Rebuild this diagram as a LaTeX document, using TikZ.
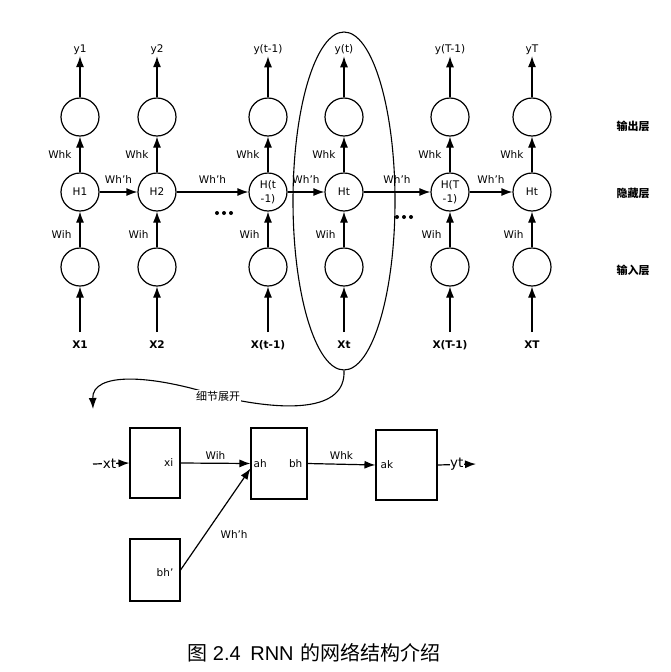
\documentclass[tikz,border=0pt]{standalone}
\usepackage{fontspec}
\setmainfont{DejaVu Sans}
\newfontfamily\cjk{Noto Sans CJK SC}
\newfontfamily\arial{Liberation Sans}
\usepackage{tikz}
\usetikzlibrary{positioning,arrows.meta,shapes.geometric}

\begin{document}
\begin{tikzpicture}[x=1pt,y=-1pt,
  neuron/.style={circle,draw,line width=1.2pt,minimum size=38,inner sep=0pt,align=center,
    font=\fontsize{10.5}{14}\selectfont},
  cell/.style={rectangle,draw,line width=1.1pt,inner sep=0pt},
  arr/.style={line width=1.2pt,-{Latex[length=11pt,width=8pt]}},
  lab/.style={font=\fontsize{10.5}{11}\selectfont,inner sep=1pt},
  layer/.style={font=\cjk\bfseries\fontsize{11}{12}\selectfont}]
\useasboundingbox (0,0) rectangle (671,672);
% the unrolled network
\foreach \n/\x/\ya/\hb/\xb in {1/80/y1/H1/X1, 2/157/y2/H2/X2, 3/268/y(t-1)/{H(t\\-1)}/X(t-1),
    4/344/y(t)/Ht/Xt, 5/450/y(T-1)/{H(T\\-1)}/X(T-1), 6/532/yT/Ht/XT}{
  \node[neuron] (o\n) at (\x,117) {};
  \node[neuron] (h\n) at (\x,192) {\hb};
  \node[neuron] (i\n) at (\x,267) {};
  \node[lab] (y\n) at (\x,50) {\ya};
  \node[lab,font=\bfseries\fontsize{10.5}{11}\selectfont] (x\n) at (\x,345) {\xb};
  \draw[arr] ([yshift=13pt]x\n.center) -- (i\n);
  \draw[arr] (i\n) -- node[lab,left=7pt,pos=.35] {Wih} (h\n);
  \draw[arr] (h\n) -- node[lab,left=7pt] {Whk} (o\n);
  \draw[arr] (o\n) -- (y\n);
}
\foreach \a/\b in {1/2,2/3,3/4,4/5,5/6}
  \draw[arr] (h\a) -- node[lab,above=7pt] {Wh'h} (h\b);
\foreach \x in {217,224,231} \fill (\x,213) circle (2);
\foreach \x in {397,404,411} \fill (\x,217) circle (2);
\node[layer] at (633,126) {输出层};
\node[layer] at (633,193) {隐藏层};
\node[layer] at (633,270) {输入层};
% the detail of one step
\node[ellipse,draw,line width=1.1pt,minimum width=102,minimum height=338,inner sep=0pt] (step) at (344,201) {};
\draw[line width=1.1pt,-{Latex[length=11pt,width=8pt]}] (step.south)
  .. controls (346,412) and (285,412) .. (218,396) node[fill=white,inner sep=1pt,font=\cjk\fontsize{11}{12}\selectfont] {细节展开}
  .. controls (150,374) and (92,372) .. (93,409);
\node[cell,minimum width=50,minimum height=70] (bx) at (155,463) {};
\node[cell,minimum width=56,minimum height=71] (bh) at (279,463.5) {};
\node[cell,minimum width=61,minimum height=70] (bk) at (406.5,465) {};
\node[cell,minimum width=50,minimum height=62] (bp) at (155,570) {};
\node[lab,anchor=east] at ([xshift=-6pt]bx.east) {xi};
\node[lab,anchor=west] at ([xshift=2pt]bh.west) {ah};
\node[lab,anchor=east] at ([xshift=-4pt]bh.east) {bh};
\node[lab,anchor=west] at ([xshift=4pt]bk.west) {ak};
\node[lab,anchor=east] at ([xshift=-6pt,yshift=-3pt]bp.east) {bh'};
\coordinate (xin) at (93,464);
\coordinate (yout) at (476,464);
\draw[arr] (xin) -- node[pos=.45,fill=white,inner sep=0.3pt,font=\fontsize{13.5}{14}\selectfont] {xt} (bx.west);
\draw[arr] (bx.east) -- node[lab,above=2pt] {Wih} (bh.west);
\draw[arr] (bp.east) -- node[lab,right=14pt,pos=.35] {Wh'h} ([yshift=-5pt]bh.west);
\draw[arr] (bh.east) -- node[lab,above=3pt] {Whk} (bk.west);
\draw[arr] (bk.east) -- node[pos=.5,fill=white,inner sep=0.3pt,font=\fontsize{13.5}{14}\selectfont] {yt} (yout);
% caption
\node[font=\fontsize{20}{21}\selectfont] (cap) at (314,653) {{\cjk 图}\hspace{5pt}{\arial 2.4\hspace{4pt} RNN} {\cjk 的网络结构介绍}};
\end{tikzpicture}
\end{document}
